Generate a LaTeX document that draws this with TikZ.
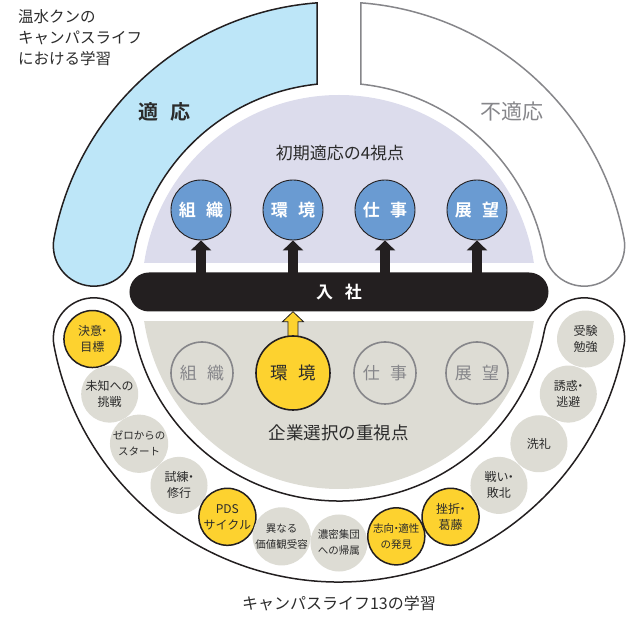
\documentclass[tikz,border=0pt]{standalone}
\usepackage{fontspec}
\setmainfont{Noto Sans CJK JP}[BoldFont={Noto Sans CJK JP Bold}]
\usetikzlibrary{arrows.meta,calc}
\definecolor{bandblue}{HTML}{BDE6F8}
\definecolor{lav}{HTML}{DCDCEC}
\definecolor{lgray}{HTML}{DDDCD4}
\definecolor{cblue}{HTML}{6A9BD2}
\definecolor{cyel}{HTML}{FDD22F}
\definecolor{barblack}{HTML}{231F20}
\definecolor{mgray}{HTML}{86868A}
\definecolor{txt}{HTML}{2B2B2B}
\newcommand\nkg{\kern-.3em・\kern-.3em}
\tikzset{
  bandline/.style={line width=1.5pt, draw=barblack},
  bluec/.style={circle, minimum size=60pt, inner sep=0pt, fill=cblue, draw=barblack, line width=0.9pt, text=white, font=\bfseries\fontsize{17}{20}\selectfont},
  ghostc/.style={circle, minimum size=62pt, inner sep=0pt, draw=mgray, line width=1.6pt, text=mgray, font=\fontsize{17}{20}\selectfont},
  bigyc/.style={circle, minimum size=74pt, inner sep=0pt, fill=cyel, draw=barblack, line width=1.6pt, text=txt, font=\fontsize{17.5}{20}\selectfont},
  smallg/.style={circle, minimum size=57pt, inner sep=0pt, fill=lgray, text=txt, align=center, font=\fontsize{12}{16}\selectfont},
  smally/.style={smallg, fill=cyel, draw=barblack, line width=1.5pt},
  tsmall/.style={font=\fontsize{10.5}{16}\selectfont},
  upar/.style={line width=10pt, draw=barblack, -{Triangle[width=20pt,length=10pt]}},
  lbl/.style={text=txt, inner sep=0pt}
}
\begin{document}
\begin{tikzpicture}[x=1pt,y=1pt]
\useasboundingbox (-339,-326) rectangle (296,292);
% upper and lower discs
\begin{scope}
\clip (-250,29) rectangle (250,250);
\fill[lav] (0,0) circle[radius=197pt];
\end{scope}
\begin{scope}
\clip (-250,-30) rectangle (250,-250);
\fill[lgray] (0,0) circle[radius=197pt];
\end{scope}
% left top band
\draw[bandline, fill=bandblue] (94.35:290) arc[start angle=94.35,end angle=169.3,radius=290pt]
  arc[start angle=169.3,end angle=349.3,radius=40.5pt]
  arc[start angle=169.3,end angle=96.04,radius=209pt] -- cycle;
% right top band
\draw[line width=1.5pt, draw=mgray, fill=white] (85.65:290) arc[start angle=85.65,end angle=10.7,radius=290pt]
  arc[start angle=10.7,end angle=-169.3,radius=40.5pt]
  arc[start angle=10.7,end angle=83.96,radius=209pt] -- cycle;
% lower U band
\draw[bandline, fill=white] (190.7:290) arc[start angle=190.7,end angle=349.3,radius=290pt]
  arc[start angle=349.3,end angle=529.3,radius=40.5pt]
  arc[start angle=349.3,end angle=190.7,radius=209pt]
  arc[start angle=10.7,end angle=190.7,radius=40.5pt] -- cycle;
% labels
\node[lbl, anchor=north west, align=left, font=\fontsize{15.5}{21}\selectfont] (title) at (-321,283) {温水クンの\\キャンパスライフ\\における学習};
\node[lbl, font=\bfseries\fontsize{20}{24}\selectfont] (tekio) at (-174,180) {適\hspace{0.6em}応};
\node[text=mgray, inner sep=0pt, font=\fontsize{21}{24}\selectfont] (futekio) at (173,180) {不適応};
\node[lbl, font=\fontsize{17}{20}\selectfont] (shoki) at (1,139) {初期適応の4視点};
\node[lbl, font=\fontsize{17.5}{20}\selectfont] (kigyo) at (0,-141) {企業選択の重視点};
\node[lbl, font=\fontsize{16}{20}\selectfont] (bottom) at (0,-311) {キャンパスライフ13の学習};
% bar
\node[fill=barblack, rounded corners=19.5pt, minimum width=419pt, minimum height=39pt, inner sep=0pt, text=white, font=\bfseries\fontsize{17}{20}\selectfont] (bar) at (0,0) {入\hspace{0.7em}社};
% blue circles
\node[bluec] (b1) at (-138,82) {組\hspace{0.6em}織};
\node[bluec] (b2) at (-46,82) {環\hspace{0.6em}境};
\node[bluec] (b3) at (46,82) {仕\hspace{0.6em}事};
\node[bluec] (b4) at (138,82) {展\hspace{0.6em}望};
\foreach \b in {b1,b2,b3,b4}{
  \draw[upar] (\b.south |- bar.north) ++(0,-1) -- (\b.south);
}
% lower circles
\node[ghostc] (g1) at (-137,-81) {組\hspace{0.6em}織};
\node[ghostc] (g3) at (46,-81) {仕\hspace{0.6em}事};
\node[ghostc] (g4) at (138,-81) {展\hspace{0.6em}望};
% yellow arrow
\coordinate (ya) at (-46,-44);
\coordinate (yt) at (ya |- bar.south);
\draw[fill=cyel, draw=barblack, line width=0.8pt]
  ($(ya)+(-5,-2)$) -- ($(yt)+(-5,-10)$) -- ($(yt)+(-10.5,-10)$) -- (yt) -- ($(yt)+(10.5,-10)$) -- ($(yt)+(5,-10)$) -- ($(ya)+(5,-2)$) -- cycle;
\node[bigyc] (g2) at (-46,-81) {環\hspace{0.6em}境};
% small circles
\node[smally] (s1) at (190.8:251) {決意\nkg\\目標};
\node[smallg] (s2) at (204:251) {未知への\\挑戦};
\node[smallg, tsmall] (s3) at (217.2:251) {ゼロからの\\スタート};
\node[smallg] (s4) at (230.4:251) {試練\nkg\\修行};
\node[smally] (s5) at (243.6:251) {PDS\\サイクル};
\node[smallg, tsmall] (s6) at (256.8:251) {異なる\\価値観受容};
\node[smallg, tsmall] (s7) at (270:251) {濃密集団\\への帰属};
\node[smally, tsmall] (s8) at (283.2:251) {志向\nkg 適性\\の発見};
\node[smally] (s9) at (296.4:251) {挫折\nkg\\葛藤};
\node[smallg] (s10) at (309.6:251) {戦い\nkg\\敗北};
\node[smallg] (s11) at (322.8:251) {洗礼};
\node[smallg] (s12) at (336:251) {誘惑\nkg\\逃避};
\node[smallg] (s13) at (349.2:251) {受験\\勉強};
\end{tikzpicture}
\end{document}
